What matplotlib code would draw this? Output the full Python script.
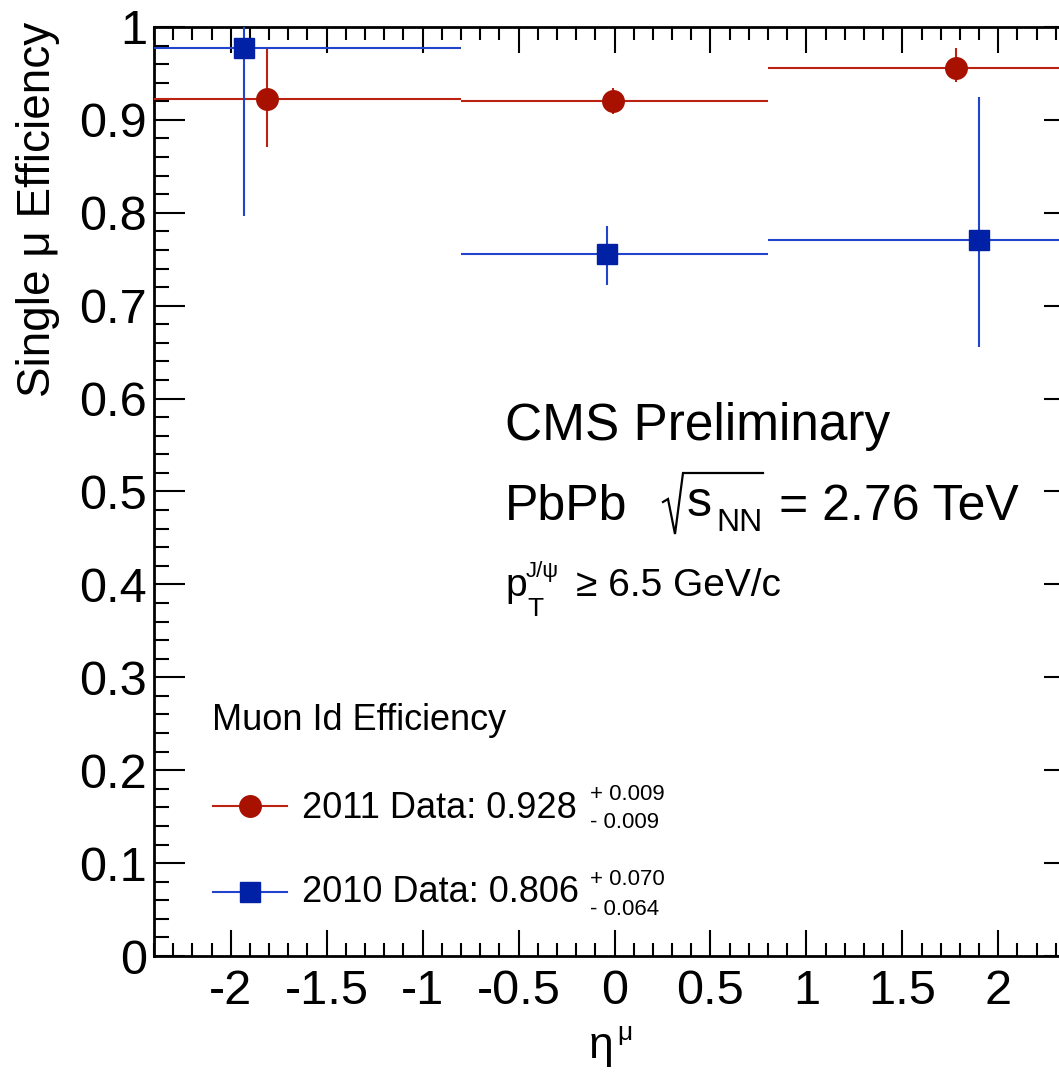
import matplotlib
matplotlib.use('Agg')
import matplotlib.pyplot as plt
from matplotlib.ticker import MultipleLocator, FuncFormatter
from matplotlib.lines import Line2D

plt.rcParams['font.family'] = ['Liberation Sans', 'DejaVu Sans']
plt.rcParams['axes.unicode_minus'] = False

# ---------------- data ----------------
bin_lo = [-2.4, -0.8, 0.8]
bin_hi = [-0.8, 0.8, 2.4]

eta_2011 = [-1.81, -0.01, 1.78]
eff_2011 = [0.922, 0.920, 0.956]
eup_2011 = [0.056, 0.014, 0.021]
edn_2011 = [0.051, 0.014, 0.015]

eta_2010 = [-1.93, -0.04, 1.90]
eff_2010 = [0.977, 0.756, 0.771]
eup_2010 = [0.023, 0.030, 0.154]
edn_2010 = [0.180, 0.034, 0.115]

leg_labels = ['2011 Data: 0.928', '2010 Data: 0.806']
leg_up = ['+ 0.009', '+ 0.070']
leg_dn = ['- 0.009', '- 0.064']

xticks = [-2, -1.5, -1, -0.5, 0, 0.5, 1, 1.5, 2]

# ---------------- styles ----------------
RED_M, RED_L = '#a81000', '#bb2211'
BLUE_M, BLUE_L = '#0021a5', '#2244cc'

W, H = 1059, 1078
fig = plt.figure(figsize=(W / 100, H / 100), dpi=100)

def fx(x):
    return x / W

def fy(y):
    return 1 - y / H

ax = fig.add_axes([fx(154), fy(956), (1075 - 154) / W, (956 - 27) / H])

def draw(eta, eff, eup, edn, mcol, lcol, marker, ms):
    xl = [e - lo for e, lo in zip(eta, bin_lo)]
    xr = [hi - e for e, hi in zip(eta, bin_hi)]
    ax.errorbar(eta, eff, xerr=[xl, xr], yerr=[edn, eup], fmt=marker,
                color=lcol, ecolor=lcol, elinewidth=1.5, capsize=0,
                mfc=mcol, mec=mcol, ms=ms, zorder=3, clip_on=True)

draw(eta_2011, eff_2011, eup_2011, edn_2011, RED_M, RED_L, 'o', 15.5)
draw(eta_2010, eff_2010, eup_2010, edn_2010, BLUE_M, BLUE_L, 's', 14.0)

ax.set_xlim(-2.4, 2.4)
ax.set_ylim(0, 1)
ax.set_xticks(xticks)
ax.xaxis.set_minor_locator(MultipleLocator(0.1))
ax.yaxis.set_major_locator(MultipleLocator(0.1))
ax.yaxis.set_minor_locator(MultipleLocator(0.02))
fmt = FuncFormatter(lambda v, p: '%g' % round(v, 3))
ax.xaxis.set_major_formatter(fmt)
ax.yaxis.set_major_formatter(fmt)

for s in ax.spines.values():
    s.set_linewidth(2.0)
ax.tick_params(axis='both', which='both', direction='in', top=True, right=True,
               width=1.5, labelsize=35)
ax.tick_params(axis='x', which='major', length=19, pad=9)
ax.tick_params(axis='x', which='minor', length=9.5)
ax.tick_params(axis='y', which='major', length=22, pad=5)
ax.tick_params(axis='y', which='minor', length=11)

# axis titles
fig.text(fx(38), fy(22), 'Single μ Efficiency', rotation=90, ha='center',
         va='top', fontsize=33)
fig.text(fx(601), fy(1058), 'η', ha='center', va='baseline', fontsize=32)
fig.text(fx(617), fy(1040), 'μ', ha='left', va='baseline', fontsize=19)

# annotations
fig.text(fx(505), fy(440), 'CMS Preliminary', fontsize=37, va='baseline')
fig.text(fx(505), fy(520), 'PbPb', fontsize=36, va='baseline')
fig.add_artist(Line2D([fx(663), fx(668), fx(675), fx(683), fx(763)],
                      [fy(502), fy(499), fy(534), fy(473), fy(473)],
                      color='black', lw=1.6, solid_joinstyle='miter'))
fig.text(fx(687), fy(516), 's', fontsize=36, va='baseline')
fig.text(fx(716), fy(531), 'NN', fontsize=23, va='baseline')
fig.text(fx(779), fy(520), '= 2.76 TeV', fontsize=36, va='baseline')

fig.text(fx(505), fy(596), 'p', fontsize=28, va='baseline')
fig.text(fx(527), fy(616), 'T', fontsize=19, va='baseline')
fig.text(fx(526), fy(577), 'J/ψ', fontsize=16, va='baseline')
fig.text(fx(576), fy(596), '≥ 6.5 GeV/c', fontsize=28, va='baseline')

# legend
fig.text(fx(212), fy(730), 'Muon Id Efficiency', fontsize=26, va='baseline')
rows = [(806, 818, 800, 828, RED_M, RED_L, 'o', 15.5),
        (892, 902, 885, 915, BLUE_M, BLUE_L, 's', 14.0)]
for i, (ly, tb, sb, db, mc, lc, mk, ms) in enumerate(rows):
    fig.add_artist(Line2D([fx(213), fx(287)], [fy(ly), fy(ly)], color=lc, lw=1.5))
    fig.add_artist(Line2D([fx(250)], [fy(ly)], marker=mk, ms=ms, mfc=mc, mec=mc,
                          linestyle='none'))
    fig.text(fx(302), fy(tb), leg_labels[i], fontsize=26, va='baseline')
    fig.text(fx(590), fy(sb), leg_up[i], fontsize=16, va='baseline')
    fig.text(fx(590), fy(db), leg_dn[i], fontsize=16, va='baseline')

fig.savefig('out.png', dpi=100)
